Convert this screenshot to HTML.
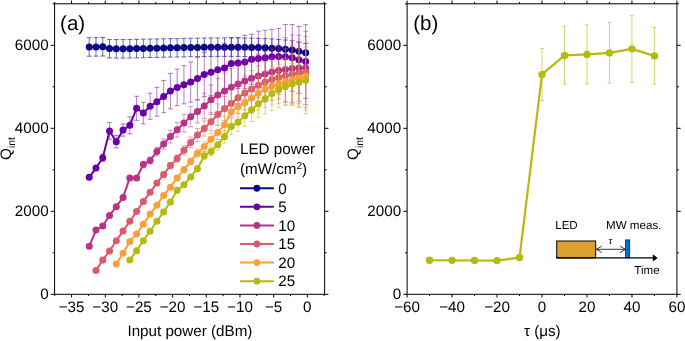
<!DOCTYPE html>
<html><head><meta charset="utf-8"><title>Figure</title>
<style>html,body{margin:0;padding:0;background:#fff;}svg{display:block;filter:blur(0.35px);}</style>
</head><body>
<svg width="685" height="341" viewBox="0 0 685 341" font-family="'Liberation Sans', sans-serif" font-size="15.2" fill="#000" text-rendering="geometricPrecision">
<rect width="685" height="341" fill="#fff"/>
<path d="M89.22 37.71V56.21M86.72 37.71h5M86.72 56.21h5M95.99 37.62V56.13M93.49 37.62h5M93.49 56.13h5M102.75 37.50V56.01M100.25 37.50h5M100.25 56.01h5M109.52 39.37V57.87M107.02 39.37h5M107.02 57.87h5M116.28 39.57V58.08M113.78 39.57h5M113.78 58.08h5M123.05 39.57V58.08M120.55 39.57h5M120.55 58.08h5M129.81 39.45V57.96M127.31 39.45h5M127.31 57.96h5M136.58 39.37V57.87M134.08 39.37h5M134.08 57.87h5M143.34 39.16V57.67M140.84 39.16h5M140.84 57.67h5M150.11 39.03V57.54M147.61 39.03h5M147.61 57.54h5M156.87 38.95V57.46M154.37 38.95h5M154.37 57.46h5M163.64 38.74V57.25M161.14 38.74h5M161.14 57.25h5M170.40 38.62V57.13M167.90 38.62h5M167.90 57.13h5M177.17 38.54V57.04M174.67 38.54h5M174.67 57.04h5M183.93 38.33V56.84M181.43 38.33h5M181.43 56.84h5M190.70 38.20V56.71M188.20 38.20h5M188.20 56.71h5M197.46 38.12V56.63M194.96 38.12h5M194.96 56.63h5M204.23 38.04V56.55M201.73 38.04h5M201.73 56.55h5M211.00 37.91V56.42M208.50 37.91h5M208.50 56.42h5M217.76 37.91V56.42M215.26 37.91h5M215.26 56.42h5M224.53 37.91V56.42M222.03 37.91h5M222.03 56.42h5M231.29 37.91V56.42M228.79 37.91h5M228.79 56.42h5M238.06 37.91V56.42M235.56 37.91h5M235.56 56.42h5M244.82 38.04V56.55M242.32 38.04h5M242.32 56.55h5M251.59 38.12V56.63M249.09 38.12h5M249.09 56.63h5M258.35 38.33V56.84M255.85 38.33h5M255.85 56.84h5M265.12 38.54V57.04M262.62 38.54h5M262.62 57.04h5M271.88 38.95V57.46M269.38 38.95h5M269.38 57.46h5M278.65 39.37V57.87M276.15 39.37h5M276.15 57.87h5M285.41 39.99V58.50M282.91 39.99h5M282.91 58.50h5M292.18 40.82V59.33M289.68 40.82h5M289.68 59.33h5M298.94 42.06V60.57M296.44 42.06h5M296.44 60.57h5M305.71 43.52V62.02M303.21 43.52h5M303.21 62.02h5" stroke="#0d0887" stroke-width="1" fill="none" opacity="0.6"/>
<polyline points="89.22,46.96 95.99,46.88 102.75,46.75 109.52,48.62 116.28,48.83 123.05,48.83 129.81,48.70 136.58,48.62 143.34,48.41 150.11,48.29 156.87,48.20 163.64,48.00 170.40,47.87 177.17,47.79 183.93,47.58 190.70,47.46 197.46,47.38 204.23,47.29 211.00,47.17 217.76,47.17 224.53,47.17 231.29,47.17 238.06,47.17 244.82,47.29 251.59,47.38 258.35,47.58 265.12,47.79 271.88,48.20 278.65,48.62 285.41,49.24 292.18,50.07 298.94,51.32 305.71,52.77" stroke="#0d0887" stroke-width="2" fill="none" stroke-linejoin="round"/>
<g fill="#0d0887"><circle cx="89.22" cy="46.96" r="3.5"/><circle cx="95.99" cy="46.88" r="3.5"/><circle cx="102.75" cy="46.75" r="3.5"/><circle cx="109.52" cy="48.62" r="3.5"/><circle cx="116.28" cy="48.83" r="3.5"/><circle cx="123.05" cy="48.83" r="3.5"/><circle cx="129.81" cy="48.70" r="3.5"/><circle cx="136.58" cy="48.62" r="3.5"/><circle cx="143.34" cy="48.41" r="3.5"/><circle cx="150.11" cy="48.29" r="3.5"/><circle cx="156.87" cy="48.20" r="3.5"/><circle cx="163.64" cy="48.00" r="3.5"/><circle cx="170.40" cy="47.87" r="3.5"/><circle cx="177.17" cy="47.79" r="3.5"/><circle cx="183.93" cy="47.58" r="3.5"/><circle cx="190.70" cy="47.46" r="3.5"/><circle cx="197.46" cy="47.38" r="3.5"/><circle cx="204.23" cy="47.29" r="3.5"/><circle cx="211.00" cy="47.17" r="3.5"/><circle cx="217.76" cy="47.17" r="3.5"/><circle cx="224.53" cy="47.17" r="3.5"/><circle cx="231.29" cy="47.17" r="3.5"/><circle cx="238.06" cy="47.17" r="3.5"/><circle cx="244.82" cy="47.29" r="3.5"/><circle cx="251.59" cy="47.38" r="3.5"/><circle cx="258.35" cy="47.58" r="3.5"/><circle cx="265.12" cy="47.79" r="3.5"/><circle cx="271.88" cy="48.20" r="3.5"/><circle cx="278.65" cy="48.62" r="3.5"/><circle cx="285.41" cy="49.24" r="3.5"/><circle cx="292.18" cy="50.07" r="3.5"/><circle cx="298.94" cy="51.32" r="3.5"/><circle cx="305.71" cy="52.77" r="3.5"/></g>
<path d="M89.22 175.07V179.64M86.72 175.07h5M86.72 179.64h5M95.99 165.57V170.55M93.49 165.57h5M93.49 170.55h5M102.75 154.28V161.33M100.25 154.28h5M100.25 161.33h5M109.52 122.61V139.21M107.02 122.61h5M107.02 139.21h5M116.28 135.56V148.01M113.78 135.56h5M113.78 148.01h5M123.05 123.94V136.23M120.55 123.94h5M120.55 136.23h5M129.81 116.85V133.86M127.31 116.85h5M127.31 133.86h5M136.58 96.26V120.33M134.08 96.26h5M134.08 120.33h5M143.34 102.24V123.82M140.84 102.24h5M140.84 123.82h5M150.11 93.19V119.34M147.61 93.19h5M147.61 119.34h5M156.87 87.34V116.14M154.37 87.34h5M154.37 116.14h5M163.64 80.41V112.78M161.14 80.41h5M161.14 112.78h5M170.40 73.31V108.84M167.90 73.31h5M167.90 108.84h5M177.17 69.12V105.64M174.67 69.12h5M174.67 105.64h5M183.93 65.64V103.82M181.43 65.64h5M181.43 103.82h5M190.70 61.90V102.16M188.20 61.90h5M188.20 102.16h5M197.46 57.34V99.66M194.96 57.34h5M194.96 99.66h5M204.23 52.23V96.64M201.73 52.23h5M201.73 96.64h5M211.00 49.12V95.60M208.50 49.12h5M208.50 95.60h5M217.76 45.51V94.06M215.26 45.51h5M215.26 94.06h5M224.53 43.02V93.23M222.03 43.02h5M222.03 93.23h5M231.29 37.50V89.37M228.79 37.50h5M228.79 89.37h5M238.06 37.50V88.54M235.56 37.50h5M235.56 88.54h5M244.82 35.38V88.58M242.32 35.38h5M242.32 88.58h5M251.59 34.30V84.35M249.09 34.30h5M249.09 84.35h5M258.35 31.11V85.89M255.85 31.11h5M255.85 85.89h5M265.12 30.32V85.18M262.62 30.32h5M262.62 85.18h5M271.88 29.36V84.31M269.38 29.36h5M269.38 84.31h5M278.65 28.45V84.39M276.15 28.45h5M276.15 84.39h5M285.41 24.47V89.21M282.91 24.47h5M282.91 89.21h5M292.18 24.47V91.28M289.68 24.47h5M289.68 91.28h5M298.94 26.46V93.19M296.44 26.46h5M296.44 93.19h5M305.71 24.72V98.42M303.21 24.72h5M303.21 98.42h5" stroke="#6a00a8" stroke-width="1" fill="none" opacity="0.5"/>
<polyline points="89.22,177.35 95.99,168.06 102.75,157.81 109.52,130.91 116.28,141.79 123.05,130.08 129.81,125.35 136.58,108.30 143.34,113.03 150.11,106.26 156.87,101.74 163.64,96.59 170.40,91.07 177.17,87.38 183.93,84.73 190.70,82.03 197.46,78.50 204.23,74.43 211.00,72.36 217.76,69.78 224.53,68.12 231.29,63.44 238.06,63.02 244.82,61.98 251.59,59.33 258.35,58.50 265.12,57.75 271.88,56.84 278.65,56.42 285.41,56.84 292.18,57.87 298.94,59.83 305.71,61.57" stroke="#6a00a8" stroke-width="2" fill="none" stroke-linejoin="round"/>
<g fill="#6a00a8"><circle cx="89.22" cy="177.35" r="3.5"/><circle cx="95.99" cy="168.06" r="3.5"/><circle cx="102.75" cy="157.81" r="3.5"/><circle cx="109.52" cy="130.91" r="3.5"/><circle cx="116.28" cy="141.79" r="3.5"/><circle cx="123.05" cy="130.08" r="3.5"/><circle cx="129.81" cy="125.35" r="3.5"/><circle cx="136.58" cy="108.30" r="3.5"/><circle cx="143.34" cy="113.03" r="3.5"/><circle cx="150.11" cy="106.26" r="3.5"/><circle cx="156.87" cy="101.74" r="3.5"/><circle cx="163.64" cy="96.59" r="3.5"/><circle cx="170.40" cy="91.07" r="3.5"/><circle cx="177.17" cy="87.38" r="3.5"/><circle cx="183.93" cy="84.73" r="3.5"/><circle cx="190.70" cy="82.03" r="3.5"/><circle cx="197.46" cy="78.50" r="3.5"/><circle cx="204.23" cy="74.43" r="3.5"/><circle cx="211.00" cy="72.36" r="3.5"/><circle cx="217.76" cy="69.78" r="3.5"/><circle cx="224.53" cy="68.12" r="3.5"/><circle cx="231.29" cy="63.44" r="3.5"/><circle cx="238.06" cy="63.02" r="3.5"/><circle cx="244.82" cy="61.98" r="3.5"/><circle cx="251.59" cy="59.33" r="3.5"/><circle cx="258.35" cy="58.50" r="3.5"/><circle cx="265.12" cy="57.75" r="3.5"/><circle cx="271.88" cy="56.84" r="3.5"/><circle cx="278.65" cy="56.42" r="3.5"/><circle cx="285.41" cy="56.84" r="3.5"/><circle cx="292.18" cy="57.87" r="3.5"/><circle cx="298.94" cy="59.83" r="3.5"/><circle cx="305.71" cy="61.57" r="3.5"/></g>
<path d="M89.22 245.36V247.21M86.72 245.36h5M86.72 247.21h5M95.99 228.93V231.27M93.49 228.93h5M93.49 231.27h5M102.75 224.76V227.22M100.25 224.76h5M100.25 227.22h5M109.52 214.10V216.88M107.02 214.10h5M107.02 216.88h5M116.28 205.10V208.29M113.78 205.10h5M113.78 208.29h5M123.05 195.56V199.32M120.55 195.56h5M120.55 199.32h5M129.81 175.46V180.41M127.31 175.46h5M127.31 180.41h5M136.58 175.46V180.41M134.08 175.46h5M134.08 180.41h5M143.34 161.29V167.86M140.84 161.29h5M140.84 167.86h5M150.11 156.92V164.00M147.61 156.92h5M147.61 164.00h5M156.87 147.25V155.99M154.37 147.25h5M154.37 155.99h5M163.64 138.81V149.24M161.14 138.81h5M161.14 149.24h5M170.40 130.30V142.90M167.90 130.30h5M167.90 142.90h5M177.17 122.36V137.15M174.67 122.36h5M174.67 137.15h5M183.93 114.28V131.94M181.43 114.28h5M181.43 131.94h5M190.70 106.41V126.87M188.20 106.41h5M188.20 126.87h5M197.46 100.15V122.84M194.96 100.15h5M194.96 122.84h5M204.23 93.12V118.75M201.73 93.12h5M201.73 118.75h5M211.00 84.95V114.63M208.50 84.95h5M208.50 114.63h5M217.76 78.60V111.44M215.26 78.60h5M215.26 111.44h5M224.53 73.14V108.68M222.03 73.14h5M222.03 108.68h5M231.29 68.43V106.00M228.79 68.43h5M228.79 106.00h5M238.06 64.20V103.59M235.56 64.20h5M235.56 103.59h5M244.82 60.51V101.47M242.32 60.51h5M242.32 101.47h5M251.59 57.06V99.52M249.09 57.06h5M249.09 99.52h5M258.35 54.06V97.96M255.85 54.06h5M255.85 97.96h5M265.12 51.32V96.55M262.62 51.32h5M262.62 96.55h5M271.88 48.86V95.27M269.38 48.86h5M269.38 95.27h5M278.65 46.95V94.28M276.15 46.95h5M276.15 94.28h5M285.41 37.66V101.24M282.91 37.66h5M282.91 101.24h5M292.18 35.01V102.07M289.68 35.01h5M289.68 102.07h5M298.94 35.09V101.16M296.44 35.09h5M296.44 101.16h5M305.71 31.40V104.60M303.21 31.40h5M303.21 104.60h5" stroke="#b8328a" stroke-width="1" fill="none" opacity="0.5"/>
<polyline points="89.22,246.28 95.99,230.10 102.75,225.99 109.52,215.49 116.28,206.69 123.05,197.44 129.81,177.93 136.58,177.93 143.34,164.57 150.11,160.46 156.87,151.62 163.64,144.03 170.40,136.60 177.17,129.75 183.93,123.11 190.70,116.64 197.46,111.49 204.23,105.93 211.00,99.79 217.76,95.02 224.53,90.91 231.29,87.22 238.06,83.90 244.82,80.99 251.59,78.29 258.35,76.01 265.12,73.94 271.88,72.07 278.65,70.62 285.41,69.45 292.18,68.54 298.94,68.12 305.71,68.00" stroke="#b8328a" stroke-width="2" fill="none" stroke-linejoin="round"/>
<g fill="#b8328a"><circle cx="89.22" cy="246.28" r="3.5"/><circle cx="95.99" cy="230.10" r="3.5"/><circle cx="102.75" cy="225.99" r="3.5"/><circle cx="109.52" cy="215.49" r="3.5"/><circle cx="116.28" cy="206.69" r="3.5"/><circle cx="123.05" cy="197.44" r="3.5"/><circle cx="129.81" cy="177.93" r="3.5"/><circle cx="136.58" cy="177.93" r="3.5"/><circle cx="143.34" cy="164.57" r="3.5"/><circle cx="150.11" cy="160.46" r="3.5"/><circle cx="156.87" cy="151.62" r="3.5"/><circle cx="163.64" cy="144.03" r="3.5"/><circle cx="170.40" cy="136.60" r="3.5"/><circle cx="177.17" cy="129.75" r="3.5"/><circle cx="183.93" cy="123.11" r="3.5"/><circle cx="190.70" cy="116.64" r="3.5"/><circle cx="197.46" cy="111.49" r="3.5"/><circle cx="204.23" cy="105.93" r="3.5"/><circle cx="211.00" cy="99.79" r="3.5"/><circle cx="217.76" cy="95.02" r="3.5"/><circle cx="224.53" cy="90.91" r="3.5"/><circle cx="231.29" cy="87.22" r="3.5"/><circle cx="238.06" cy="83.90" r="3.5"/><circle cx="244.82" cy="80.99" r="3.5"/><circle cx="251.59" cy="78.29" r="3.5"/><circle cx="258.35" cy="76.01" r="3.5"/><circle cx="265.12" cy="73.94" r="3.5"/><circle cx="271.88" cy="72.07" r="3.5"/><circle cx="278.65" cy="70.62" r="3.5"/><circle cx="285.41" cy="69.45" r="3.5"/><circle cx="292.18" cy="68.54" r="3.5"/><circle cx="298.94" cy="68.12" r="3.5"/><circle cx="305.71" cy="68.00" r="3.5"/></g>
<path d="M95.99 269.95V271.26M93.49 269.95h5M93.49 271.26h5M102.75 259.14V260.66M100.25 259.14h5M100.25 260.66h5M109.52 250.20V251.91M107.02 250.20h5M107.02 251.91h5M116.28 239.75V241.78M113.78 239.75h5M113.78 241.78h5M123.05 229.94V232.25M120.55 229.94h5M120.55 232.25h5M129.81 219.96V222.56M127.31 219.96h5M127.31 222.56h5M136.58 210.14V213.04M134.08 210.14h5M134.08 213.04h5M143.34 199.80V203.30M140.84 199.80h5M140.84 203.30h5M150.11 190.30V194.37M147.61 190.30h5M147.61 194.37h5M156.87 180.77V185.39M154.37 180.77h5M154.37 185.39h5M163.64 171.78V177.12M161.14 171.78h5M161.14 177.12h5M170.40 162.39V168.83M167.90 162.39h5M167.90 168.83h5M177.17 154.76V162.10M174.67 154.76h5M174.67 162.10h5M183.93 145.68V154.74M181.43 145.68h5M181.43 154.74h5M190.70 137.01V147.81M188.20 137.01h5M188.20 147.81h5M197.46 128.58V141.63M194.96 128.58h5M194.96 141.63h5M204.23 120.84V136.17M201.73 120.84h5M201.73 136.17h5M211.00 112.61V130.87M208.50 112.61h5M208.50 130.87h5M217.76 103.88V125.24M215.26 103.88h5M215.26 125.24h5M224.53 96.41V120.43M222.03 96.41h5M222.03 120.43h5M231.29 89.53V116.94M228.79 89.53h5M228.79 116.94h5M238.06 82.19V113.24M235.56 82.19h5M235.56 113.24h5M244.82 75.89V110.07M242.32 75.89h5M242.32 110.07h5M251.59 70.55V107.20M249.09 70.55h5M249.09 107.20h5M258.35 65.79V104.49M255.85 65.79h5M255.85 104.49h5M265.12 61.83V102.23M262.62 61.83h5M262.62 102.23h5M271.88 58.66V100.42M269.38 58.66h5M269.38 100.42h5M278.65 55.97V98.96M276.15 55.97h5M276.15 98.96h5M285.41 48.70V102.65M282.91 48.70h5M282.91 102.65h5M292.18 45.09V103.19M289.68 45.09h5M289.68 103.19h5M298.94 42.31V103.73M296.44 42.31h5M296.44 103.73h5M305.71 36.42V108.13M303.21 36.42h5M303.21 108.13h5" stroke="#db5a6b" stroke-width="1" fill="none" opacity="0.5"/>
<polyline points="95.99,270.60 102.75,259.90 109.52,251.06 116.28,240.77 123.05,231.10 129.81,221.26 136.58,211.59 143.34,201.55 150.11,192.33 156.87,183.08 163.64,174.45 170.40,165.61 177.17,158.43 183.93,150.21 190.70,142.41 197.46,135.11 204.23,128.51 211.00,121.74 217.76,114.56 224.53,108.42 231.29,103.23 238.06,97.71 244.82,92.98 251.59,88.88 258.35,85.14 265.12,82.03 271.88,79.54 278.65,77.46 285.41,75.68 292.18,74.14 298.94,73.02 305.71,72.28" stroke="#db5a6b" stroke-width="2" fill="none" stroke-linejoin="round"/>
<g fill="#db5a6b"><circle cx="95.99" cy="270.60" r="3.5"/><circle cx="102.75" cy="259.90" r="3.5"/><circle cx="109.52" cy="251.06" r="3.5"/><circle cx="116.28" cy="240.77" r="3.5"/><circle cx="123.05" cy="231.10" r="3.5"/><circle cx="129.81" cy="221.26" r="3.5"/><circle cx="136.58" cy="211.59" r="3.5"/><circle cx="143.34" cy="201.55" r="3.5"/><circle cx="150.11" cy="192.33" r="3.5"/><circle cx="156.87" cy="183.08" r="3.5"/><circle cx="163.64" cy="174.45" r="3.5"/><circle cx="170.40" cy="165.61" r="3.5"/><circle cx="177.17" cy="158.43" r="3.5"/><circle cx="183.93" cy="150.21" r="3.5"/><circle cx="190.70" cy="142.41" r="3.5"/><circle cx="197.46" cy="135.11" r="3.5"/><circle cx="204.23" cy="128.51" r="3.5"/><circle cx="211.00" cy="121.74" r="3.5"/><circle cx="217.76" cy="114.56" r="3.5"/><circle cx="224.53" cy="108.42" r="3.5"/><circle cx="231.29" cy="103.23" r="3.5"/><circle cx="238.06" cy="97.71" r="3.5"/><circle cx="244.82" cy="92.98" r="3.5"/><circle cx="251.59" cy="88.88" r="3.5"/><circle cx="258.35" cy="85.14" r="3.5"/><circle cx="265.12" cy="82.03" r="3.5"/><circle cx="271.88" cy="79.54" r="3.5"/><circle cx="278.65" cy="77.46" r="3.5"/><circle cx="285.41" cy="75.68" r="3.5"/><circle cx="292.18" cy="74.14" r="3.5"/><circle cx="298.94" cy="73.02" r="3.5"/><circle cx="305.71" cy="72.28" r="3.5"/></g>
<path d="M116.28 263.29V264.72M113.78 263.29h5M113.78 264.72h5M123.05 252.47V254.12M120.55 252.47h5M120.55 254.12h5M129.81 240.39V242.39M127.31 240.39h5M127.31 242.39h5M136.58 232.89V235.11M134.08 232.89h5M134.08 235.11h5M143.34 223.07V225.59M140.84 223.07h5M140.84 225.59h5M150.11 212.67V215.49M147.61 212.67h5M147.61 215.49h5M156.87 203.60V206.88M154.37 203.60h5M154.37 206.88h5M163.64 193.47V197.34M161.14 193.47h5M161.14 197.34h5M170.40 185.00V189.38M167.90 185.00h5M167.90 189.38h5M177.17 175.46V180.41M174.67 175.46h5M174.67 180.41h5M183.93 166.75V172.68M181.43 166.75h5M181.43 172.68h5M190.70 158.02V164.98M188.20 158.02h5M188.20 164.98h5M197.46 149.00V157.40M194.96 149.00h5M194.96 157.40h5M204.23 141.49V151.38M201.73 141.49h5M201.73 151.38h5M211.00 133.32V145.11M208.50 133.32h5M208.50 145.11h5M217.76 125.46V139.36M215.26 125.46h5M215.26 139.36h5M224.53 116.35V133.28M222.03 116.35h5M222.03 133.28h5M231.29 100.50V123.06M228.79 100.50h5M228.79 123.06h5M238.06 94.05V119.22M235.56 94.05h5M235.56 119.22h5M244.82 88.64V116.50M242.32 88.64h5M242.32 116.50h5M251.59 82.57V113.44M249.09 82.57h5M249.09 113.44h5M258.35 76.33V110.30M255.85 76.33h5M255.85 110.30h5M265.12 71.07V107.51M262.62 71.07h5M262.62 107.51h5M271.88 67.11V105.24M269.38 67.11h5M269.38 105.24h5M278.65 64.20V103.59M276.15 64.20h5M276.15 103.59h5M285.41 58.37V104.85M282.91 58.37h5M282.91 104.85h5M292.18 53.93V105.39M289.68 53.93h5M289.68 105.39h5M298.94 49.03V106.72M296.44 49.03h5M296.44 106.72h5M305.71 41.90V110.79M303.21 41.90h5M303.21 110.79h5" stroke="#fb9f3a" stroke-width="1" fill="none" opacity="0.5"/>
<polyline points="116.28,264.00 123.05,253.30 129.81,241.39 136.58,234.00 143.34,224.33 150.11,214.08 156.87,205.24 163.64,195.41 170.40,187.19 177.17,177.93 183.93,169.72 190.70,161.50 197.46,153.20 204.23,146.44 211.00,139.21 217.76,132.41 224.53,124.81 231.29,111.78 238.06,106.64 244.82,102.57 251.59,98.01 258.35,93.32 265.12,89.29 271.88,86.18 278.65,83.90 285.41,81.61 292.18,79.66 298.94,77.88 305.71,76.34" stroke="#fb9f3a" stroke-width="2" fill="none" stroke-linejoin="round"/>
<g fill="#fb9f3a"><circle cx="116.28" cy="264.00" r="3.5"/><circle cx="123.05" cy="253.30" r="3.5"/><circle cx="129.81" cy="241.39" r="3.5"/><circle cx="136.58" cy="234.00" r="3.5"/><circle cx="143.34" cy="224.33" r="3.5"/><circle cx="150.11" cy="214.08" r="3.5"/><circle cx="156.87" cy="205.24" r="3.5"/><circle cx="163.64" cy="195.41" r="3.5"/><circle cx="170.40" cy="187.19" r="3.5"/><circle cx="177.17" cy="177.93" r="3.5"/><circle cx="183.93" cy="169.72" r="3.5"/><circle cx="190.70" cy="161.50" r="3.5"/><circle cx="197.46" cy="153.20" r="3.5"/><circle cx="204.23" cy="146.44" r="3.5"/><circle cx="211.00" cy="139.21" r="3.5"/><circle cx="217.76" cy="132.41" r="3.5"/><circle cx="224.53" cy="124.81" r="3.5"/><circle cx="231.29" cy="111.78" r="3.5"/><circle cx="238.06" cy="106.64" r="3.5"/><circle cx="244.82" cy="102.57" r="3.5"/><circle cx="251.59" cy="98.01" r="3.5"/><circle cx="258.35" cy="93.32" r="3.5"/><circle cx="265.12" cy="89.29" r="3.5"/><circle cx="271.88" cy="86.18" r="3.5"/><circle cx="278.65" cy="83.90" r="3.5"/><circle cx="285.41" cy="81.61" r="3.5"/><circle cx="292.18" cy="79.66" r="3.5"/><circle cx="298.94" cy="77.88" r="3.5"/><circle cx="305.71" cy="76.34" r="3.5"/></g>
<path d="M129.81 259.14V260.66M127.31 259.14h5M127.31 260.66h5M136.58 249.78V251.50M134.08 249.78h5M134.08 251.50h5M143.34 239.75V241.78M140.84 239.75h5M140.84 241.78h5M150.11 229.98V232.29M147.61 229.98h5M147.61 232.29h5M156.87 219.96V222.56M154.37 219.96h5M154.37 222.56h5M163.64 210.56V213.45M161.14 210.56h5M161.14 213.45h5M170.40 200.22V203.70M167.90 200.22h5M167.90 203.70h5M177.17 188.16V192.36M174.67 188.16h5M174.67 192.36h5M183.93 182.48V187.00M181.43 182.48h5M181.43 187.00h5M190.70 174.38V179.41M188.20 174.38h5M188.20 179.41h5M197.46 165.65V171.71M194.96 165.65h5M194.96 171.71h5M204.23 151.77V159.61M201.73 151.77h5M201.73 159.61h5M211.00 147.16V155.92M208.50 147.16h5M208.50 155.92h5M217.76 139.60V149.87M215.26 139.60h5M215.26 149.87h5M224.53 130.45V143.00M222.03 130.45h5M222.03 143.00h5M231.29 118.42V134.61M228.79 118.42h5M228.79 134.61h5M238.06 113.32V131.33M235.56 113.32h5M235.56 131.33h5M244.82 105.45V126.25M242.32 105.45h5M242.32 126.25h5M251.59 98.13V121.54M249.09 98.13h5M249.09 121.54h5M258.35 90.08V117.22M255.85 90.08h5M255.85 117.22h5M265.12 83.57V113.94M262.62 83.57h5M262.62 113.94h5M271.88 76.50V110.38M269.38 76.50h5M269.38 110.38h5M278.65 71.60V107.81M276.15 71.60h5M276.15 107.81h5M285.41 66.96V105.39M282.91 66.96h5M282.91 105.39h5M292.18 63.39V104.81M289.68 63.39h5M289.68 104.81h5M298.94 57.00V107.47M296.44 57.00h5M296.44 107.47h5M305.71 47.13V113.61M303.21 47.13h5M303.21 113.61h5" stroke="#b6b90f" stroke-width="1" fill="none" opacity="0.5"/>
<polyline points="129.81,259.90 136.58,250.64 143.34,240.77 150.11,231.14 156.87,221.26 163.64,212.01 170.40,201.96 177.17,190.26 183.93,184.74 190.70,176.90 197.46,168.68 204.23,155.69 211.00,151.54 217.76,144.73 224.53,136.72 231.29,126.52 238.06,122.32 244.82,115.85 251.59,109.83 258.35,103.65 265.12,98.75 271.88,93.44 278.65,89.71 285.41,86.18 292.18,84.10 298.94,82.24 305.71,80.37" stroke="#b6b90f" stroke-width="2" fill="none" stroke-linejoin="round"/>
<g fill="#b6b90f"><circle cx="129.81" cy="259.90" r="3.5"/><circle cx="136.58" cy="250.64" r="3.5"/><circle cx="143.34" cy="240.77" r="3.5"/><circle cx="150.11" cy="231.14" r="3.5"/><circle cx="156.87" cy="221.26" r="3.5"/><circle cx="163.64" cy="212.01" r="3.5"/><circle cx="170.40" cy="201.96" r="3.5"/><circle cx="177.17" cy="190.26" r="3.5"/><circle cx="183.93" cy="184.74" r="3.5"/><circle cx="190.70" cy="176.90" r="3.5"/><circle cx="197.46" cy="168.68" r="3.5"/><circle cx="204.23" cy="155.69" r="3.5"/><circle cx="211.00" cy="151.54" r="3.5"/><circle cx="217.76" cy="144.73" r="3.5"/><circle cx="224.53" cy="136.72" r="3.5"/><circle cx="231.29" cy="126.52" r="3.5"/><circle cx="238.06" cy="122.32" r="3.5"/><circle cx="244.82" cy="115.85" r="3.5"/><circle cx="251.59" cy="109.83" r="3.5"/><circle cx="258.35" cy="103.65" r="3.5"/><circle cx="265.12" cy="98.75" r="3.5"/><circle cx="271.88" cy="93.44" r="3.5"/><circle cx="278.65" cy="89.71" r="3.5"/><circle cx="285.41" cy="86.18" r="3.5"/><circle cx="292.18" cy="84.10" r="3.5"/><circle cx="298.94" cy="82.24" r="3.5"/><circle cx="305.71" cy="80.37" r="3.5"/></g>
<rect x="54.6" y="3.8" width="270.03" height="290.50" fill="none" stroke="#000" stroke-width="1"/>
<path d="M71.57 294.3v3.2M71.57 3.8v-3.2M105.25 294.3v3.2M105.25 3.8v-3.2M138.93 294.3v3.2M138.93 3.8v-3.2M172.61 294.3v3.2M172.61 3.8v-3.2M206.29 294.3v3.2M206.29 3.8v-3.2M239.96 294.3v3.2M239.96 3.8v-3.2M273.64 294.3v3.2M273.64 3.8v-3.2M307.32 294.3v3.2M307.32 3.8v-3.2M88.41 294.3v1.8M88.41 3.8v-1.8M122.09 294.3v1.8M122.09 3.8v-1.8M155.77 294.3v1.8M155.77 3.8v-1.8M189.45 294.3v1.8M189.45 3.8v-1.8M223.12 294.3v1.8M223.12 3.8v-1.8M256.80 294.3v1.8M256.80 3.8v-1.8M290.48 294.3v1.8M290.48 3.8v-1.8M324.16 294.3v1.8M324.16 3.8v-1.8M54.73 294.3v1.8M54.73 3.8v-1.8M54.6 294.30h-3.8M324.63 294.30h3.8M54.6 211.30h-3.8M324.63 211.30h3.8M54.6 128.30h-3.8M324.63 128.30h3.8M54.6 45.30h-3.8M324.63 45.30h3.8M54.6 252.80h-2M324.63 252.80h2M54.6 169.80h-2M324.63 169.80h2M54.6 86.80h-2M324.63 86.80h2M54.6 3.80h-2M324.63 3.80h2" stroke="#000" stroke-width="1" fill="none"/>
<text x="48.60" y="299.40" text-anchor="end">0</text>
<text x="48.60" y="216.40" text-anchor="end">2000</text>
<text x="48.60" y="133.40" text-anchor="end">4000</text>
<text x="48.60" y="50.40" text-anchor="end">6000</text>
<text x="71.57" y="311.6" text-anchor="middle">−35</text>
<text x="105.25" y="311.6" text-anchor="middle">−30</text>
<text x="138.93" y="311.6" text-anchor="middle">−25</text>
<text x="172.61" y="311.6" text-anchor="middle">−20</text>
<text x="206.29" y="311.6" text-anchor="middle">−15</text>
<text x="239.96" y="311.6" text-anchor="middle">−10</text>
<text x="273.64" y="311.6" text-anchor="middle">−5</text>
<text x="307.32" y="311.6" text-anchor="middle">0</text>
<text transform="translate(10.70 159.95) rotate(-90)">Q<tspan font-size="10.4" dy="4.5">int</tspan></text>
<text x="189.9" y="335.6" text-anchor="middle">Input power (dBm)</text>
<text x="60.1" y="29.5" font-size="20.5">(a)</text>
<text x="240.0" y="154.2">LED power</text>
<text x="240.0" y="174.0">(mW/cm<tspan font-size="10" dy="-5.5">2</tspan><tspan dy="5.5">)</tspan></text>
<path d="M240 188.25H273.9" stroke="#0d0887" stroke-width="2"/>
<circle cx="256.9" cy="188.25" r="3.4" fill="#0d0887"/>
<text x="278.3" y="193.55">0</text>
<path d="M240 206.83H273.9" stroke="#6a00a8" stroke-width="2"/>
<circle cx="256.9" cy="206.83" r="3.4" fill="#6a00a8"/>
<text x="278.3" y="212.13">5</text>
<path d="M240 225.41H273.9" stroke="#b8328a" stroke-width="2"/>
<circle cx="256.9" cy="225.41" r="3.4" fill="#b8328a"/>
<text x="278.3" y="230.71">10</text>
<path d="M240 243.99H273.9" stroke="#db5a6b" stroke-width="2"/>
<circle cx="256.9" cy="243.99" r="3.4" fill="#db5a6b"/>
<text x="278.3" y="249.29">15</text>
<path d="M240 262.57H273.9" stroke="#fb9f3a" stroke-width="2"/>
<circle cx="256.9" cy="262.57" r="3.4" fill="#fb9f3a"/>
<text x="278.3" y="267.87">20</text>
<path d="M240 281.15H273.9" stroke="#b6b90f" stroke-width="2"/>
<circle cx="256.9" cy="281.15" r="3.4" fill="#b6b90f"/>
<text x="278.3" y="286.45">25</text>
<path d="M542.00 48.37V100.41M540.00 48.37h4M540.00 100.41h4M564.48 26.62V84.14M562.48 26.62h4M562.48 84.14h4M586.97 24.88V83.90M584.97 24.88h4M584.97 83.90h4M609.45 22.60V83.19M607.45 22.60h4M607.45 83.19h4M631.93 15.34V82.40M629.93 15.34h4M629.93 82.40h4M654.42 27.62V84.14M652.42 27.62h4M652.42 84.14h4" stroke="#b6b90f" stroke-width="1" fill="none" opacity="0.6"/>
<polyline points="429.58,260.27 452.07,260.35 474.55,260.48 497.03,260.60 519.52,257.57 542.00,74.39 564.48,55.38 586.97,54.39 609.45,52.89 631.93,48.87 654.42,55.88" stroke="#b6b90f" stroke-width="2.2" fill="none" stroke-linejoin="round"/>
<g fill="#b6b90f"><circle cx="429.58" cy="260.27" r="3.7"/><circle cx="452.07" cy="260.35" r="3.7"/><circle cx="474.55" cy="260.48" r="3.7"/><circle cx="497.03" cy="260.60" r="3.7"/><circle cx="519.52" cy="257.57" r="3.7"/><circle cx="542.00" cy="74.39" r="3.7"/><circle cx="564.48" cy="55.38" r="3.7"/><circle cx="586.97" cy="54.39" r="3.7"/><circle cx="609.45" cy="52.89" r="3.7"/><circle cx="631.93" cy="48.87" r="3.7"/><circle cx="654.42" cy="55.88" r="3.7"/></g>
<rect x="407.1" y="3.8" width="269.80" height="290.50" fill="none" stroke="#000" stroke-width="1"/>
<path d="M407.10 294.3v3.2M407.10 3.8v-3.2M452.07 294.3v3.2M452.07 3.8v-3.2M497.03 294.3v3.2M497.03 3.8v-3.2M542.00 294.3v3.2M542.00 3.8v-3.2M586.97 294.3v3.2M586.97 3.8v-3.2M631.93 294.3v3.2M631.93 3.8v-3.2M676.90 294.3v3.2M676.90 3.8v-3.2M429.58 294.3v1.8M429.58 3.8v-1.8M474.55 294.3v1.8M474.55 3.8v-1.8M519.52 294.3v1.8M519.52 3.8v-1.8M564.48 294.3v1.8M564.48 3.8v-1.8M609.45 294.3v1.8M609.45 3.8v-1.8M654.42 294.3v1.8M654.42 3.8v-1.8M407.1 294.30h-3.8M676.9 294.30h3.8M407.1 211.30h-3.8M676.9 211.30h3.8M407.1 128.30h-3.8M676.9 128.30h3.8M407.1 45.30h-3.8M676.9 45.30h3.8M407.1 252.80h-2M676.9 252.80h2M407.1 169.80h-2M676.9 169.80h2M407.1 86.80h-2M676.9 86.80h2M407.1 3.80h-2M676.9 3.80h2" stroke="#000" stroke-width="1" fill="none"/>
<text x="401.10" y="299.40" text-anchor="end">0</text>
<text x="401.10" y="216.40" text-anchor="end">2000</text>
<text x="401.10" y="133.40" text-anchor="end">4000</text>
<text x="401.10" y="50.40" text-anchor="end">6000</text>
<text x="407.10" y="311.6" text-anchor="middle">−60</text>
<text x="452.07" y="311.6" text-anchor="middle">−40</text>
<text x="497.03" y="311.6" text-anchor="middle">−20</text>
<text x="542.00" y="311.6" text-anchor="middle">0</text>
<text x="586.97" y="311.6" text-anchor="middle">20</text>
<text x="631.93" y="311.6" text-anchor="middle">40</text>
<text x="676.90" y="311.6" text-anchor="middle">60</text>
<text transform="translate(358.20 159.95) rotate(-90)">Q<tspan font-size="10.4" dy="4.5">int</tspan></text>
<text x="542.3" y="335.6" text-anchor="middle">τ (μs)</text>
<text x="413.3" y="29.5" font-size="20.5">(b)</text>
<g font-size="11.6">
<text x="555.2" y="228.9">LED</text>
<text x="606.0" y="228.9">MW meas.</text>
<text x="634.3" y="273.9">Time</text>
</g>
<rect x="556.7" y="241" width="39" height="16.9" fill="#dba032" stroke="#000" stroke-width="1"/>
<rect x="625.6" y="239.9" width="4.1" height="18" fill="#0b6fc6" stroke="#06213f" stroke-width="0.8"/>
<path d="M556.2 257.9H653.5" stroke="#000" stroke-width="1.4" fill="none"/>
<path d="M657.7 257.9L652.8 254.3V261.5Z" fill="#000"/>
<path d="M596.6 249.3H625.2M601.8 246L596.6 249.3L601.8 252.6M620 246L625.2 249.3L620 252.6" stroke="#000" stroke-width="0.8" fill="none"/>
<text x="610.4" y="243.9" font-size="11" font-style="italic" font-family="'Liberation Serif', serif" text-anchor="middle">τ</text>
</svg>
</body></html>
